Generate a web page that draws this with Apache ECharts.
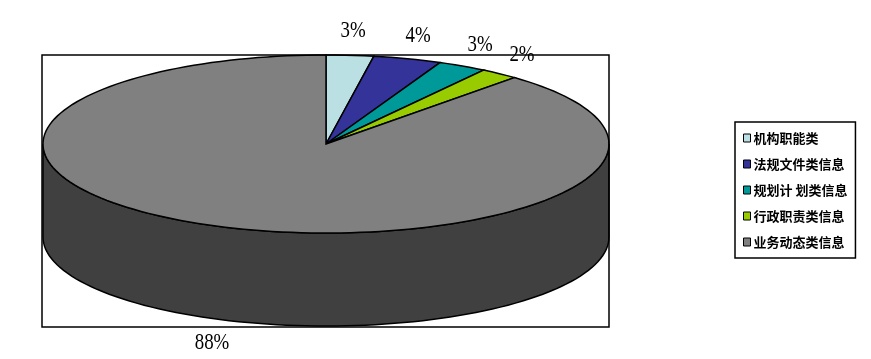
<!DOCTYPE html>
<html>
<head>
<meta charset="utf-8">
<style>
  html, body { margin: 0; padding: 0; background: #fff; }
  #chart { width: 871px; height: 359px; }
</style>
<script src="https://cdn.jsdelivr.net/npm/echarts@6/dist/echarts.min.js"></script>
</head>
<body>
<div id="chart"></div>
<script>
// 分类和数值（百分比）
var categories = ['机构职能类', '法规文件类信息', '规划计 划类信息', '行政职责类信息', '业务动态类信息']
var values = [2.7, 3.9, 2.8, 2.2, 88.4]
var colors = ['#BBE0E3', '#333399', '#009999', '#99CC00', '#808080']
var sideColors = ['#5E7072', '#1A1A4D', '#004D4D', '#4D6600', '#404040']

// 椭圆饼的位置和大小
var cx = 326
var cy = 144
var rx = 283
var ry = 89
var depth = 93

var total = values.reduce(function (a, b) { return a + b }, 0)
var starts = []
var acc = 0
values.forEach(function (v) {
  starts.push(acc / total * 360)
  acc += v
})

function pt (deg, dy) {
  var r = deg * Math.PI / 180
  return [cx + rx * Math.sin(r), cy - ry * Math.cos(r) + (dy || 0)]
}
function arc (a0, a1, dy) {
  var pts = []
  var n = Math.max(2, Math.ceil((a1 - a0) / 2))
  for (var i = 0; i <= n; i++) {
    pts.push(pt(a0 + (a1 - a0) * i / n, dy))
  }
  return pts
}

var seriesData = values.map(function (v, i) {
  return [i, v]
})

// 顶面 + 百分比标签
function renderTop (params, api) {
  var i = api.value(0)
  var a0 = starts[i]
  var a1 = a0 + api.value(1) / total * 360
  var mid = (a0 + a1) / 2 * Math.PI / 180
  var lx = cx + rx * 1.13 * Math.sin(mid)
  var ly = cy - ry * 1.27 * Math.cos(mid)
  if (Math.cos(mid) < 0) ly += depth
  return {
    type: 'group',
    children: [{
      type: 'polygon',
      shape: { points: [[cx, cy]].concat(arc(a0, a1)) },
      style: { fill: colors[i], stroke: '#000', lineWidth: 1.5 }
    }, {
      type: 'text',
      x: lx,
      y: ly,
      scaleX: 0.82,
      style: {
        text: Math.round(api.value(1) / total * 100) + '%',
        fill: '#000',
        font: '23px "Liberation Serif"',
        align: 'center',
        verticalAlign: 'middle'
      }
    }]
  }
}

// 侧面（只画前半圈）
function renderSide (params, api) {
  var i = api.value(0)
  var a0 = Math.max(starts[i], 90)
  var a1 = Math.min(starts[i] + api.value(1) / total * 360, 270)
  if (a1 <= a0) return { type: 'group', children: [] }
  var top = arc(a0, a1)
  var bottom = arc(a0, a1, depth).reverse()
  return {
    type: 'polygon',
    shape: { points: top.concat(bottom) },
    style: { fill: sideColors[i], stroke: '#000', lineWidth: 1.5 }
  }
}

var myChart = echarts.init(document.getElementById('chart'))
var option = {
  animation: false,
  color: colors,
  legend: {
    orient: 'vertical',
    left: 735,
    top: 122,
    padding: [9, 8, 9, 8],
    borderColor: '#000',
    borderWidth: 1.5,
    itemWidth: 7,
    itemHeight: 8,
    itemGap: 12,
    icon: 'rect',
    itemStyle: { borderColor: '#000', borderWidth: 1 },
    textStyle: {
      fontFamily: 'Noto Sans CJK SC',
      fontWeight: 'bold',
      fontSize: 13,
      lineHeight: 14,
      color: '#000',
      padding: [0, 0, 0, -2]
    },
    data: categories
  },
  graphic: [{
    type: 'rect',
    z: 100,
    shape: { x: 42, y: 55, width: 567, height: 272 },
    style: { fill: 'none', stroke: '#000', lineWidth: 1.5 }
  }],
  series: [{
    // 只用于图例
    type: 'pie',
    center: [-200, -200],
    radius: 1,
    silent: true,
    label: { show: false },
    data: values.map(function (v, i) {
      return { name: categories[i], value: v }
    })
  }, {
    type: 'custom',
    coordinateSystem: 'none',
    silent: true,
    z: 2,
    renderItem: renderSide,
    data: seriesData
  }, {
    type: 'custom',
    coordinateSystem: 'none',
    silent: true,
    z: 3,
    renderItem: renderTop,
    data: seriesData
  }]
}
myChart.setOption(option)
</script>
</body>
</html>
